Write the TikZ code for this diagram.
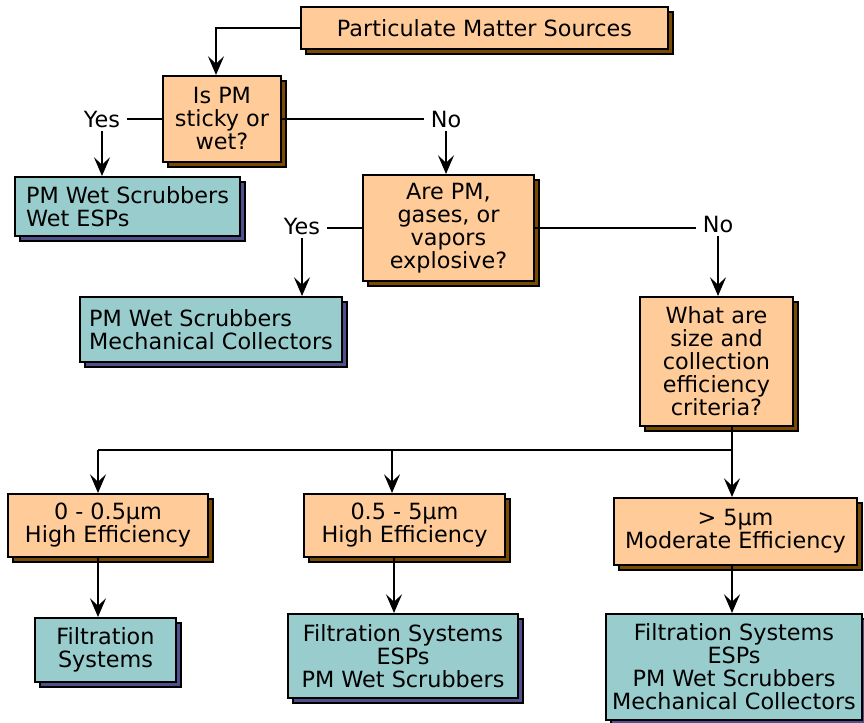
\documentclass[tikz,border=0pt]{standalone}
\usepackage{fontspec}
\setmainfont{DejaVu Sans}
\usetikzlibrary{arrows.meta,shadows}
\definecolor{peach}{HTML}{FFCC99}
\definecolor{tealbox}{HTML}{99CCCC}
\definecolor{brownsh}{HTML}{7A4A00}
\definecolor{bluesh}{HTML}{50508C}
\begin{document}
\begin{tikzpicture}[x=0.75pt,y=-0.75pt,
  font=\fontsize{16.75}{17.25}\selectfont,
  box/.style={draw=black,line width=1.5pt,inner sep=0pt,align=center},
  qbox/.style={box,fill=peach,general shadow={fill=brownsh,draw=black,line width=1pt,shadow xshift=3.75pt,shadow yshift=-3.75pt}},
  abox/.style={box,fill=tealbox,general shadow={fill=bluesh,draw=black,line width=1pt,shadow xshift=3.75pt,shadow yshift=-3.75pt}},
  conn/.style={line width=1.5pt},
  arr/.style={conn,-{Stealth[length=14pt,width=12pt,inset=5.5pt]}},
  lbl/.style={inner xsep=5pt,inner ysep=2pt}
]
\useasboundingbox (0,0) rectangle (864,723);

% boxes
\node[qbox,minimum width=275.25pt,minimum height=31.5pt] (pms) at (484.5,28) {Particulate Matter Sources};
\node[qbox,minimum width=88.5pt,minimum height=64.5pt] (ispm) at (222,119) {Is PM\\sticky or\\wet?};
\node[abox,align=left,minimum width=168.75pt,minimum height=44.25pt] (t1) at (127.5,206.5) {PM Wet Scrubbers\\Wet ESPs};
\node[qbox,minimum width=128.25pt,minimum height=79.5pt] (exp) at (448.5,228) {Are PM,\\gases, or\\vapors\\explosive?};
\node[abox,align=left,minimum width=196.5pt,minimum height=48.75pt] (t2) at (211,329.5) {PM Wet Scrubbers\\Mechanical Collectors};
\node[qbox,minimum width=114.75pt,minimum height=96.75pt] (crit) at (716.5,361.5) {What are\\size and\\collection\\efficiency\\criteria?};
\node[qbox,minimum width=150pt,minimum height=47.25pt] (a) at (108,525.5) {0 - 0.5µm\\High Efficiency};
\node[qbox,minimum width=150.75pt,minimum height=47.25pt] (b) at (404.5,525.5) {0.5 - 5µm\\High Efficiency};
\node[qbox,minimum width=182.25pt,minimum height=50.25pt] (c) at (735.5,531.5) {> 5µm\\Moderate Efficiency};
\node[abox,minimum width=105.75pt,minimum height=48pt] (ta) at (105.5,650) {Filtration\\Systems};
\node[abox,minimum width=172.5pt,minimum height=63pt] (tb) at (403,656) {Filtration Systems\\ESPs\\PM Wet Scrubbers};
\node[abox,minimum width=192pt,minimum height=79.5pt] (tc) at (734,667) {Filtration Systems\\ESPs\\PM Wet Scrubbers\\Mechanical Collectors};

% labels
\node[lbl] (yes1) at (102,120) {Yes};
\node[lbl] (no1) at (446,120) {No};
\node[lbl] (yes2) at (302,227) {Yes};
\node[lbl] (no2) at (718,225) {No};

% connectors
\coordinate (c1) at (216,28);
\draw[arr] (pms.west) -- (c1) -- (c1 |- ispm.north);

\draw[conn] (ispm.west) -- (ispm.west -| yes1.east);
\draw[arr] (yes1.south) -- (yes1.south |- t1.north);
\draw[conn] (ispm.east) -- (ispm.east -| no1.west);
\draw[arr] (no1.south) -- (no1.south |- exp.north);

\draw[conn] (exp.west) -- (exp.west -| yes2.east);
\draw[arr] (yes2.south) -- (yes2.south |- t2.north);
\draw[conn] (exp.east) -- (exp.east -| no2.west);
\draw[arr] (no2.south) -- (no2.south |- crit.north);

\coordinate (j) at (732,450);
\coordinate (jA) at (98,450);
\coordinate (jB) at (392,450);
\coordinate (kB) at (394,450);
\draw[conn] (j |- crit.south) -- (j) -- (jA);
\draw[arr] (j) -- (j |- c.north);
\draw[arr] (jA) -- (jA |- a.north);
\draw[arr] (jB) -- (jB |- b.north);

\draw[arr] (jA |- a.south) -- (jA |- ta.north);
\draw[arr] (kB |- b.south) -- (kB |- tb.north);
\draw[arr] (j |- c.south) -- (j |- tc.north);
\end{tikzpicture}
\end{document}
